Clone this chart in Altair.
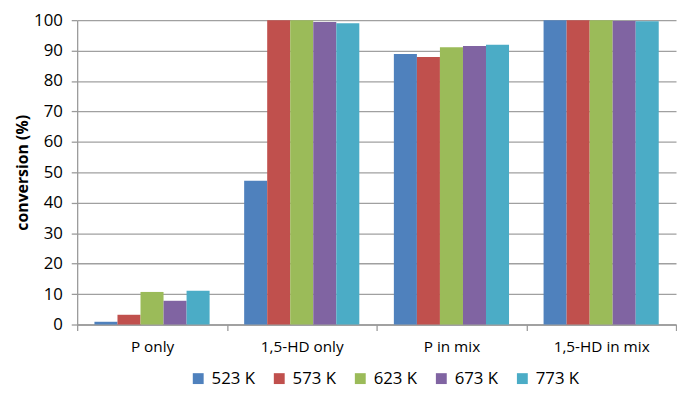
import altair as alt
import pandas as pd

categories = ["P only", "1,5-HD only", "P in mix", "1,5-HD in mix"]
series = ["523 K", "573 K", "623 K", "673 K", "773 K"]
colors = ["#4F81BD", "#C0504D", "#9BBB59", "#8064A2", "#4BACC6"]

v523 = [0.9, 47.2, 88.9, 100.0]
v573 = [3.2, 100.0, 87.9, 100.0]
v623 = [10.7, 100.0, 91.1, 100.0]
v673 = [7.8, 99.4, 91.5, 99.7]
v773 = [11.1, 99.0, 91.9, 99.6]

values = [v523, v573, v623, v673, v773]
rows = []
for s, vals in zip(series, values):
    for c, v in zip(categories, vals):
        rows.append({"category": c, "series": s, "conversion": v})
df = pd.DataFrame(rows)

FONT = "Open Sans"

chart = alt.Chart(df).mark_bar().encode(
    x=alt.X("category:N", sort=categories, title=None,
            scale=alt.Scale(paddingInner=0, paddingOuter=0),
            axis=alt.Axis(labelAngle=0, tickBand="extent", tickSize=6,
                          labelPadding=9, labelFontSize=15.5, labelColor="#000000",
                          labelFont=FONT, domainColor="#9A9A9A", tickColor="#9A9A9A",
                          domainWidth=1.3, tickWidth=1.3)),
    xOffset=alt.XOffset("series:N", sort=series,
                        scale=alt.Scale(paddingInner=0, paddingOuter=0.75)),
    y=alt.Y("conversion:Q", title="conversion (%)",
            scale=alt.Scale(domain=[0, 100], nice=False),
            axis=alt.Axis(values=list(range(0, 101, 10)), tickSize=6,
                          labelPadding=9, labelFontSize=17, labelColor="#000000",
                          labelFont=FONT, titleFont=FONT, titleFontSize=16,
                          titleFontWeight="bold", titleColor="#000000",
                          titlePadding=3, gridColor="#A0A0A0", gridWidth=1.3,
                          domainColor="#9A9A9A", tickColor="#9A9A9A",
                          domainWidth=1.3, tickWidth=1.3)),
    color=alt.Color("series:N", sort=series,
                    scale=alt.Scale(domain=series, range=colors),
                    legend=alt.Legend(title=None, orient="none", legendX=114, legendY=354,
                                      direction="horizontal", columns=5,
                                      symbolType="square", symbolSize=121,
                                      symbolStrokeWidth=0, labelFontSize=17,
                                      labelFont=FONT, labelColor="#000000",
                                      labelOffset=5, columnPadding=16)),
).properties(
    width=606, height=308,
    autosize=alt.AutoSizeParams(type="none"),
    padding={"left": 70, "top": 10, "right": 1, "bottom": 66},
).configure_view(stroke=None)

chart.save("out.html", embed_options={"renderer": "svg", "actions": False})
